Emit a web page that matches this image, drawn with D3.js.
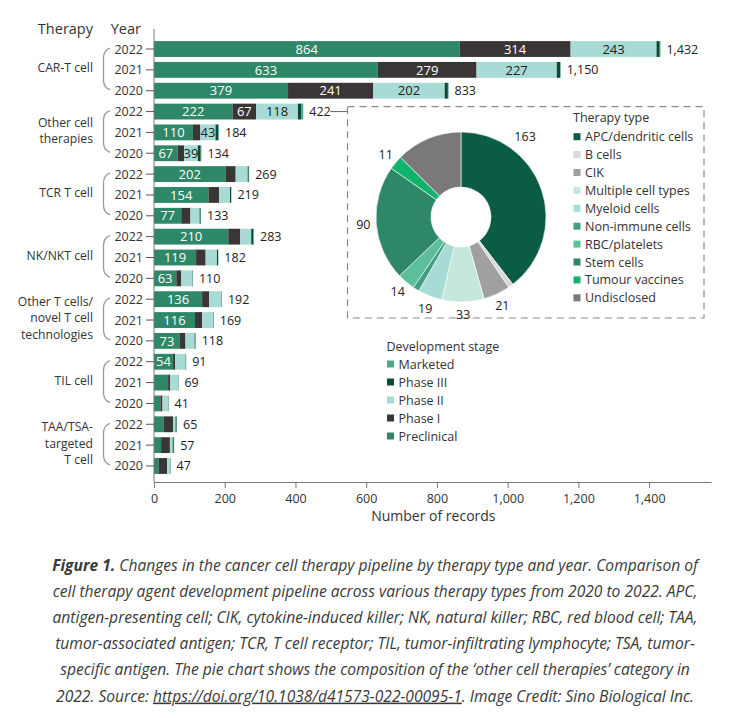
<!DOCTYPE html>
<html>
<head>
<meta charset="utf-8">
<script src="https://cdn.jsdelivr.net/npm/d3@7/dist/d3.min.js"></script>
<style>
  html, body { margin: 0; padding: 0; background: #fff; }
  svg { display: block; }
  text { font-family: "Open Sans", "Noto Sans", sans-serif; fill: #333; }
</style>
</head>
<body>
<svg id="chart" width="750" height="718"></svg>
<script>
// ---------------- DATA ----------------
const therapies = ["CAR-T cell", "Other cell\ntherapies", "TCR T cell", "NK/NKT cell",
  "Other T cells/\nnovel T cell\ntechnologies", "TIL cell", "TAA/TSA-\ntargeted\nT cell"];
const years = ["2022", "2021", "2020"];
const stages = ["Preclinical", "Phase I", "Phase II", "Phase III", "Marketed"];
// one value per row: therapy x year (2022, 2021, 2020)
const preclinical = [864, 633, 379, 222, 110, 67, 202, 154, 77, 210, 119, 63, 136, 116, 73, 54, 40, 18, 27, 20, 13];
const phaseI      = [314, 279, 241, 67, 21, 18, 29, 30, 26, 34, 27, 14, 20, 20, 16, 6, 6, 6, 27, 25, 24];
const phaseII     = [243, 227, 202, 118, 43, 39, 34, 31, 26, 31, 32, 31, 34, 31, 26, 29, 22, 16, 7, 8, 8];
const phaseIII    = [9, 9, 9, 10, 8, 8, 3, 3, 3, 6, 3, 1, 1, 1, 2, 1, 1, 1, 3, 3, 1];
const marketed    = [2, 2, 2, 5, 2, 2, 1, 1, 1, 2, 1, 1, 1, 1, 1, 1, 0, 0, 1, 1, 1];
const totals      = [1432, 1150, 833, 422, 184, 134, 269, 219, 133, 283, 182, 110, 192, 169, 118, 91, 69, 41, 65, 57, 47];
// which stage values are printed inside each bar
const labelledStages = [[0,1,2],[0,1,2],[0,1,2],[0,1,2],[0,2],[0,2],[0],[0],[0],[0],[0],[0],[0],[0],[0],[0],[],[],[],[],[]];
const xTicks = [0, 200, 400, 600, 800, 1000, 1200, 1400];
const legendStages = ["Marketed", "Phase III", "Phase II", "Phase I", "Preclinical"];

const pieTypes = ["APC/dendritic cells", "B cells", "CIK", "Multiple cell types", "Myeloid cells",
  "Non-immune cells", "RBC/platelets", "Stem cells", "Tumour vaccines", "Undisclosed"];
const pieValues = [163, 4, 21, 33, 19, 5, 14, 90, 11, 52];
const pieLabelled = [true, false, true, true, true, false, true, true, true, false];

const captionLines = [
  [["Figure 1.", "bold"], [" Changes in the cancer cell therapy pipeline by therapy type and year. Comparison of", ""]],
  [["cell therapy agent development pipeline across various therapy types from 2020 to 2022. APC,", ""]],
  [["antigen-presenting cell; CIK, cytokine-induced killer; NK, natural killer; RBC, red blood cell; TAA,", ""]],
  [["tumor-associated antigen; TCR, T cell receptor; TIL, tumor-infiltrating lymphocyte; TSA, tumor-", ""]],
  [["specific antigen. The pie chart shows the composition of the \u2018other cell therapies\u2019 category in", ""]],
  [["2022. Source: ", ""], ["https://doi.org/10.1038/d41573-022-00095-1", "link"], [". Image Credit: Sino Biological Inc.", ""]]
];

// ---------------- STYLES ----------------
const stageColors = {
  "Preclinical": "#2e8767",
  "Phase I": "#3b3636",
  "Phase II": "#a8dbd5",
  "Phase III": "#0b4a33",
  "Marketed": "#4ba98a"
};
const stageTextColors = {"Preclinical": "#fff", "Phase I": "#fff", "Phase II": "#222"};
const pieColors = ["#0a5c45", "#d9d9d9", "#a0a0a0", "#c6e7db", "#a7dbd6", "#3f9f80", "#5cbf99", "#2e8766", "#12b36b", "#7a7878"];

// ---------------- BUILD ----------------
const svg = d3.select("#chart");
const nRows = totals.length;
const rows = d3.range(nRows).map(i => ({
  i, therapy: Math.floor(i / 3), year: years[i % 3],
  Preclinical: preclinical[i], "Phase I": phaseI[i], "Phase II": phaseII[i],
  "Phase III": phaseIII[i], Marketed: marketed[i], total: totals[i]
}));

const x = d3.scaleLinear().domain([0, 1575]).range([154, 711]);
const y = d3.scaleBand().domain(d3.range(nRows)).range([38.6, 476.4]).paddingInner(0.24).paddingOuter(0.12);
const bw = y.bandwidth();

const stack = d3.stack().keys(stages);
const series = stack(rows);

// bars
const g = svg.append("g");
series.forEach((s, si) => {
  g.append("g").selectAll("rect").data(s).join("rect")
    .attr("x", d => x(d[0]))
    .attr("y", (d, i) => y(i))
    .attr("width", d => Math.max(0, x(d[1]) - x(d[0])))
    .attr("height", bw)
    .attr("fill", stageColors[stages[si]]);
  // inside labels
  g.append("g").selectAll("text")
    .data(s.filter((d, i) => labelledStages[i].includes(si)))
    .join("text")
    .attr("x", d => (x(d[0]) + x(d[1])) / 2)
    .attr("y", d => y(d.data.i) + bw / 2)
    .attr("dy", "0.36em")
    .attr("text-anchor", "middle")
    .style("font-size", "13px")
    .style("fill", stageTextColors[stages[si]])
    .text(d => d.data[stages[si]]);
});

// totals
g.append("g").selectAll("text").data(rows).join("text")
  .attr("x", d => x(d.total) + 6)
  .attr("y", d => y(d.i) + bw / 2)
  .attr("dy", "0.36em")
  .style("font-size", "12.5px")
  .style("fill", "#222")
  .text(d => d3.format(",")(d.total));

// x axis
const axisY = 482;
const xAxis = svg.append("g").attr("transform", `translate(0,${axisY})`)
  .call(d3.axisBottom(x).tickValues(xTicks).tickFormat(d3.format(",")).tickSize(6).tickSizeOuter(0));
xAxis.select(".domain").attr("stroke", "#777");
xAxis.selectAll(".tick line").attr("stroke", "#777");
xAxis.selectAll(".tick text").style("font-size", "12.5px").style("fill", "#333")
  .style("font-family", "'Open Sans', sans-serif").attr("dy", "0.95em");
svg.append("text").attr("x", x(790)).attr("y", 521).attr("text-anchor", "middle")
  .style("font-size", "14px").text("Number of records");

// y axis line
svg.append("line").attr("x1", x(0)).attr("x2", x(0)).attr("y1", 29).attr("y2", axisY)
  .attr("stroke", "#777").attr("stroke-width", 1);

// year labels and ticks
svg.append("g").selectAll("line").data(rows).join("line")
  .attr("x1", x(0) - 8).attr("x2", x(0))
  .attr("y1", d => y(d.i) + bw / 2).attr("y2", d => y(d.i) + bw / 2)
  .attr("stroke", "#555");
svg.append("g").selectAll("text").data(rows).join("text")
  .attr("x", x(0) - 11).attr("y", d => y(d.i) + bw / 2).attr("dy", "0.36em")
  .attr("text-anchor", "end").style("font-size", "12.5px").style("fill", "#333")
  .text(d => d.year);

// headers
svg.append("text").attr("x", 93).attr("y", 34).attr("text-anchor", "end").style("font-size", "14.5px").text("Therapy");
svg.append("text").attr("x", 141).attr("y", 34).attr("text-anchor", "end").style("font-size", "14.5px").text("Year");

// therapy labels + braces
therapies.forEach((t, ti) => {
  const top = y(ti * 3) + bw / 2 - 1;
  const bot = y(ti * 3 + 2) + bw / 2 - 1;
  const mid = y(ti * 3 + 1) + bw / 2 - 2;
  const lines = t.split("\n");
  const lh = 16.6;
  const txt = svg.append("text").attr("text-anchor", "end").style("font-size", "12.2px").style("fill", "#333");
  lines.forEach((l, li) => {
    txt.append("tspan").attr("x", 93)
      .attr("y", mid + (li - (lines.length - 1) / 2) * lh)
      .attr("dy", "0.36em").text(l);
  });
  const bx = 110, bl = 103.5;
  svg.append("path")
    .attr("d", `M${bx},${top} Q${bl},${top + 2} ${bl},${top + 10} L${bl},${bot - 10} Q${bl},${bot - 2} ${bx},${bot}`)
    .attr("fill", "none").attr("stroke", "#9a9a9a").attr("stroke-width", 1.3);
});

// dashed box and connector
const boxL = 347.5, boxT = 106.7, boxR = 704, boxB = 318;
svg.append("rect").attr("x", boxL).attr("y", boxT).attr("width", boxR - boxL).attr("height", boxB - boxT)
  .attr("fill", "none").attr("stroke", "#8a8a8a").attr("stroke-width", 1.2).attr("stroke-dasharray", "7,5");
const connY = y(3) + bw / 2;
svg.append("line").attr("x1", x(422) + 27).attr("x2", boxL).attr("y1", connY).attr("y2", connY)
  .attr("stroke", "#666").attr("stroke-width", 1);

// pie
const cx = 461, cy = 217, rOut = 85, rIn = 30;
const pie = d3.pie().sort(null).value(d => d.v);
const pieData = pie(pieTypes.map((t, i) => ({t, v: pieValues[i], i})));
const arc = d3.arc().innerRadius(rIn).outerRadius(rOut);
const pg = svg.append("g").attr("transform", `translate(${cx},${cy})`);
pg.selectAll("path").data(pieData).join("path")
  .attr("d", arc).attr("fill", d => pieColors[d.data.i])
  .attr("stroke", "#fff").attr("stroke-width", 0.6);
const labelR = 98;
pg.selectAll("text").data(pieData.filter(d => pieLabelled[d.data.i])).join("text")
  .attr("transform", d => {
    let a = (d.startAngle + d.endAngle) / 2;
    if (d.index === 0) a = d.startAngle + 0.27 * (d.endAngle - d.startAngle);
    const r = d.index === 0 ? 103 : labelR;
    return `translate(${r * Math.sin(a)},${-r * Math.cos(a)})`;
  })
  .attr("dy", "0.36em").attr("text-anchor", "middle")
  .style("font-size", "12.5px").style("fill", "#222")
  .text(d => d.data.v);

// pie legend
const lg = svg.append("g");
lg.append("text").attr("x", 573).attr("y", 117).attr("dy", "0.36em").style("font-size", "12.5px").text("Therapy type");
pieTypes.forEach((t, i) => {
  const yy = 136.7 + i * 17.9;
  lg.append("rect").attr("x", 573.5).attr("y", yy - 3.5).attr("width", 7).attr("height", 7).attr("fill", pieColors[i]);
  lg.append("text").attr("x", 585).attr("y", yy).attr("dy", "0.36em").style("font-size", "12.5px").text(t);
});

// stage legend
const sg = svg.append("g");
sg.append("text").attr("x", 386.5).attr("y", 346).attr("dy", "0.36em").style("font-size", "12.5px").text("Development stage");
legendStages.forEach((s, i) => {
  const yy = 364 + i * 18;
  sg.append("rect").attr("x", 387).attr("y", yy - 3.5).attr("width", 7).attr("height", 7).attr("fill", stageColors[s]);
  sg.append("text").attr("x", 398.5).attr("y", yy).attr("dy", "0.36em").style("font-size", "12.5px").text(s);
});

// caption
const cap = svg.append("g");
captionLines.forEach((parts, li) => {
  const t = cap.append("text").attr("x", 375).attr("y", 565 + li * 26.2).attr("dy", "0.36em")
    .attr("text-anchor", "middle")
    .style("font-size", "15.6px").style("font-style", "italic").style("fill", "#3a3a3a");
  parts.forEach(([s, kind]) => {
    const ts = t.append("tspan").text(s);
    if (kind === "bold") ts.style("font-weight", "bold");
    if (kind === "link") ts.style("text-decoration", "underline");
  });
});
</script>
</body>
</html>
